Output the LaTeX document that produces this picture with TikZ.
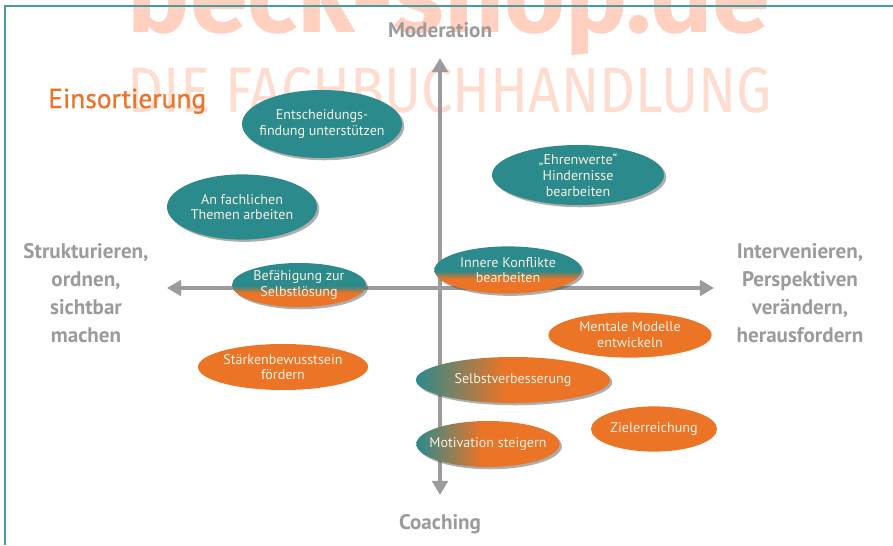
\documentclass[tikz,border=0pt]{standalone}
\usepackage{fontspec}
\usepackage{graphicx}
\setmainfont{PT Sans}
\newfontfamily\titlefont{PT Sans}[FakeBold=0.8]
\newfontfamily\markfont{Fira Sans}
\usetikzlibrary{shapes.geometric, arrows.meta, shadows}
\definecolor{coachteal}{RGB}{43, 138, 140}
\definecolor{coachorange}{RGB}{236, 116, 38}
\definecolor{coachcream}{RGB}{246, 241, 228}
\definecolor{coachgray}{RGB}{155, 155, 155}
\definecolor{coachframe}{RGB}{72, 156, 156}
\definecolor{coachmark}{RGB}{255, 208, 192}
\definecolor{coachmarklight}{RGB}{255, 220, 208}
\pgfdeclareverticalshading{tealorangev}{100bp}{color(0bp)=(coachorange); color(41bp)=(coachorange); color(49bp)=(coachteal); color(100bp)=(coachteal)}
\pgfdeclarehorizontalshading{tealorangeh}{100bp}{color(0bp)=(coachteal); color(25bp)=(coachteal); color(48bp)=(coachorange); color(100bp)=(coachorange)}

\begin{document}
\begin{tikzpicture}[
    x=0.025cm, y=-0.025cm,
    bubble/.style={
        ellipse,
        inner sep=0pt,
        draw=none
    },
    bubbletext/.style={
        font=\fontsize{10}{11.2}\selectfont,
        text=coachcream,
        align=center
    },
    shadowed/.style={
        drop shadow={shadow xshift=1.6pt, shadow yshift=-1.6pt, fill=black!70, opacity=0.45}
    },
    tealbubble/.style={bubble, fill=coachteal, shadowed},
    orangebubble/.style={bubble, fill=coachorange},
    vmixbubble/.style={bubble, shade, shading=tealorangev, shadowed},
    hmixbubble/.style={bubble, shade, shading=tealorangeh, shadowed},
    axis/.style={
        {Triangle[length=10pt, width=11pt]}-{Triangle[length=10pt, width=11pt]},
        line width=3.4pt,
        coachgray
    },
    axislabel/.style={
        font=\bfseries\fontsize{15}{20}\selectfont,
        text=coachgray,
        align=center
    }
]

\useasboundingbox (0,0) rectangle (893,545);
\clip (0,0) rectangle (893,545);

% Watermark
\node[text=coachmark, anchor=base, inner sep=0pt] (shop) at (449,33)
    {\resizebox{16.05cm}{!}{\markfont\bfseries beck-shop.de}};
\node[text=coachmarklight, anchor=base, inner sep=0pt] (store) at (450,112)
    {\resizebox{16.1cm}{1.125cm}{\markfont DIE FACHBUCHHANDLUNG}};

% Frame
\draw[coachframe, line width=1.3pt] (893,6) -- (5,6) -- (5,545);

% Axes
\coordinate (top) at (440,58);
\coordinate (bottom) at (440,495);
\coordinate (left) at (167,288);
\coordinate (right) at (714,288);
\draw[axis] (bottom) -- (top);
\draw[axis] (left) -- (right);

% Axis labels
\node[axislabel, anchor=base] (moderation) at (440,38) {Moderation};
\node[axislabel, anchor=base] (coaching) at (440,529) {Coaching};
\node[axislabel] (structure) at (86,293) {Strukturieren,\\ordnen,\\sichtbar\\machen};
\node[axislabel] (intervene) at (800,293) {Intervenieren,\\Perspektiven\\verändern,\\herausfordern};

% Title
\node[anchor=base west, inner sep=0pt, text=coachorange, font=\titlefont\fontsize{19.5}{22}\selectfont] (title) at (48,108) {Einsortierung};

% Bubbles
\node[tealbubble, minimum width=4cm, minimum height=1.7cm,
    label={[bubbletext]center:Entscheidungs-\\findung unterstützen}] (decide) at (322,124) {};
\node[tealbubble, minimum width=4.3cm, minimum height=1.5cm,
    label={[bubbletext]center:„Ehrenwerte“\\Hindernisse\\bearbeiten}] (honour) at (578,175) {};
\node[tealbubble, minimum width=3.75cm, minimum height=1.63cm,
    label={[bubbletext]center:An fachlichen\\Themen arbeiten}] (topics) at (242,207) {};
\node[vmixbubble, minimum width=3.35cm, minimum height=1.1cm,
    label={[bubbletext]center:Befähigung zur\\Selbstlösung}] (enable) at (299,285) {};
\node[vmixbubble, minimum width=3.68cm, minimum height=1.18cm,
    label={[bubbletext]center:Innere Konflikte\\bearbeiten}] (conflict) at (508,270) {};
\node[orangebubble, minimum width=4.08cm, minimum height=1.13cm,
    label={[bubbletext]center:Mentale Modelle\\entwickeln}] (models) at (630,335) {};
\node[orangebubble, minimum width=4.25cm, minimum height=1.15cm,
    label={[bubbletext]center:Stärkenbewusstsein\\fördern}] (strength) at (283,367) {};
\node[hmixbubble, minimum width=4.85cm, minimum height=1.15cm,
    label={[bubbletext]center:Selbstverbesserung}] (improve) at (513,380) {};
\node[orangebubble, minimum width=3.15cm, minimum height=1.13cm,
    label={[bubbletext]center:Zielerreichung}] (goal) at (654,429) {};
\node[hmixbubble, minimum width=3.58cm, minimum height=1.15cm,
    label={[bubbletext]center:Motivation steigern}] (motivate) at (488,444) {};

\end{tikzpicture}
\end{document}
